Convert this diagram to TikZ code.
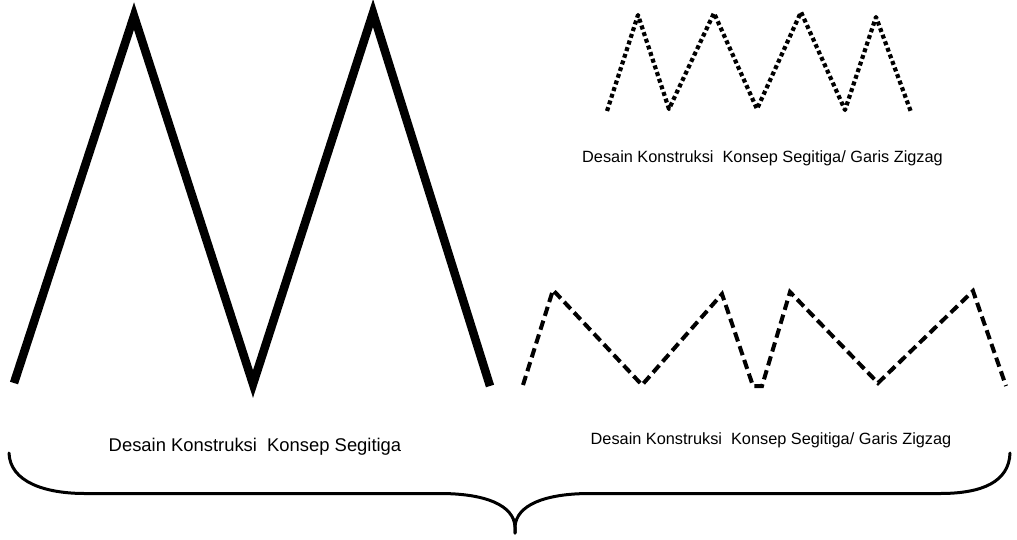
\documentclass[tikz,border=0pt]{standalone}
\usepackage{fontspec}
\setmainfont{Liberation Sans}
\begin{document}
\begin{tikzpicture}[x=1pt,y=-1pt,
  solidzig/.style={line width=8.5pt, line join=miter},
  dotzig/.style={line width=4.2pt, dash pattern=on 4pt off 3pt, line join=round},
  dashzig/.style={line width=4pt, dash pattern=on 9.5pt off 5pt, line join=miter},
  bracepath/.style={line width=3pt, line cap=round},
  bigcap/.style={font=\fontsize{18.4}{22}\selectfont, inner sep=0pt, anchor=base},
  smallcap/.style={font=\fontsize{16.3}{20}\selectfont, inner sep=0pt, anchor=base}]
\useasboundingbox (0,0) rectangle (1017,539);

% large triangle pattern
\draw[solidzig] (14,383) -- (134,16) -- (253,384) -- (373,13) -- (490,386);

% dotted zigzag
\draw[dotzig] (607,111) -- (638,15) -- (669,109) -- (714,13) -- (757,109)
  -- (801,12) -- (845,110) -- (876,17) -- (911,112);

% dashed zigzag
\draw[dashzig] (523,385) -- (553,290) -- (642,385) -- (722,294) -- (753,386)
  -- (762,386) -- (790,292) -- (878,383) -- (973,291) -- (1006,386);

% captions
\node[smallcap] (capA) at (762.5,162.5) {Desain Konstruksi\ \ Konsep Segitiga/ Garis Zigzag};
\node[bigcap] (capB) at (255,451) {Desain Konstruksi\ \ Konsep Segitiga};
\node[smallcap] (capC) at (771,444.5) {Desain Konstruksi\ \ Konsep Segitiga/ Garis Zigzag};

% curly brace under everything
\coordinate (bl) at (9,453);
\coordinate (br) at (1010,453);
\coordinate (tip) at (515,533);
\draw[bracepath] (bl) .. controls (10,482) and (45,493.5) .. (85,493.5)
  -- (440,493.5) .. controls (485,493.5) and (514,505) .. (515,527) -- (tip);
\draw[bracepath] (tip) -- (515,527) .. controls (516,505) and (545,493.5) .. (590,493.5)
  -- (940,493.5) .. controls (982,493.5) and (1009,482) .. (br);
\end{tikzpicture}
\end{document}
